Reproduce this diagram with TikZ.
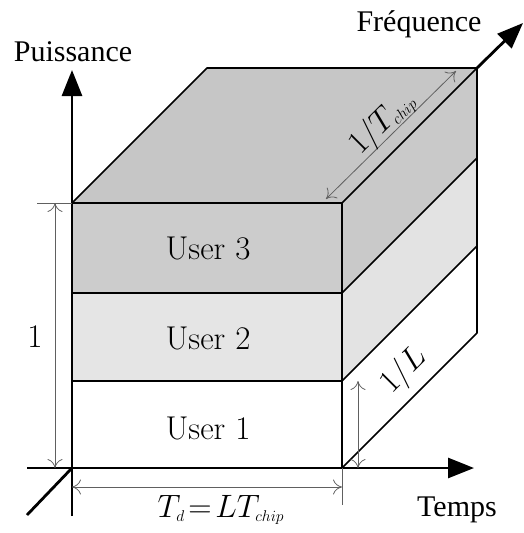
\documentclass[tikz,border=0pt]{standalone}
\usepackage{fontspec}
\newfontfamily\timesf{Liberation Serif}
\usetikzlibrary{arrows.meta}
\newcommand{\mylargemath}[1]{\scalebox{1.3}{$#1$}}
\begin{document}
\begin{tikzpicture}[x=1pt,y=-1pt,
 edge/.style={line width=1.6pt, line join=round},
 axis/.style={line width=2.8pt,-{Triangle[length=26pt,width=20pt]}},
 dimline/.style={gray!75!black, line width=0.8pt},
 dimarrow/.style={dimline,{To[length=9pt,width=15pt]}-{To[length=9pt,width=15pt]}},
 ulabel/.style={font=\fontsize{33}{36}\selectfont},
 mlabel/.style={font=\fontsize{24}{28}\selectfont},
 axlabel/.style={font=\timesf\fontsize{30}{32}\selectfont}]
\useasboundingbox (0,0) rectangle (524,533);
% corners
\coordinate (O) at (72,468);
\coordinate (A) at (342,468);
\coordinate (L1) at (72,381);
\coordinate (R1f) at (342,381);
\coordinate (L2) at (72,293);
\coordinate (R2f) at (342,293);
\coordinate (F) at (72,203);
\coordinate (FR) at (342,203);
\coordinate (BL) at (207,68);
\coordinate (BR) at (477,68);
\coordinate (R2b) at (477,158);
\coordinate (R1b) at (477,246);
\coordinate (RB) at (477,333);
% faces
\fill[gray!45] (F) -- (BL) -- (BR) -- (FR) -- cycle;
\fill[gray!42] (FR) -- (BR) -- (R2b) -- (R2f) -- cycle;
\fill[gray!22] (R2f) -- (R2b) -- (R1b) -- (R1f) -- cycle;
\fill[white] (R1f) -- (R1b) -- (RB) -- (A) -- cycle;
\fill[gray!40] (F) rectangle (R2f);
\fill[gray!20] (L2) rectangle (R1f);
\fill[white] (L1) rectangle (A);
% edges
\draw[edge] (F) -- (BL) -- (BR) -- (RB) -- (A) -- (O) -- (F) -- (FR) -- (A);
\draw[edge] (FR) -- (BR);
\draw[edge] (L2) -- (R2f) -- (R2b);
\draw[edge] (L1) -- (R1f) -- (R1b);
% axes
\coordinate (Vtop) at (72,70);
\coordinate (Vbot) at (72,516);
\coordinate (Hleft) at (27,468);
\coordinate (Hright) at (474,468);
\coordinate (Dlow) at (27,515);
\coordinate (Dtip) at (523,23);
\draw[axis] (Vbot) -- (Vtop);
\draw[axis] (Hleft) -- (Hright);
\draw[line width=2.8pt] (Dlow) -- (O);
\draw[axis] (BR) -- (Dtip);
% dimensions
\coordinate (e1) at (37,203);
\coordinate (d1a) at (55,203);
\coordinate (d1b) at (55,468);
\draw[dimline] (e1) -- (F);
\draw[dimarrow] (d1a) -- (d1b);
\coordinate (e2) at (342,505);
\draw[dimline] (A) -- (e2);
\coordinate (d2a) at (72,487);
\coordinate (d2b) at (342,487);
\draw[dimarrow] (d2a) -- (d2b);
\coordinate (d3a) at (358,381);
\coordinate (d3b) at (358,468);
\draw[dimarrow] (d3a) -- (d3b);
\coordinate (d4a) at (326,199);
\coordinate (d4b) at (456,71);
\draw[dimarrow] (d4a) -- (d4b);
% labels
\node[ulabel] (u3) at (208,248) {User 3};
\node[ulabel] (u2) at (208,338) {User 2};
\node[ulabel] (u1) at (208,428) {User 1};
\node[ulabel] (one) at (35,337) {1};
\node[mlabel] (td) at (221,510) {\mylargemath{T_{\scriptscriptstyle d}\!=\!LT_{\scriptscriptstyle chip}}};
\node[mlabel,rotate=45] (il) at (404,371) {\mylargemath{1\big/L}};
\node[mlabel,rotate=45] (it) at (382,123) {\mylargemath{1\big/T_{\scriptscriptstyle chip}}};
\node[axlabel] (pu) at (73,52) {Puissance};
\node[axlabel] (fr) at (419,24) {Fréquence};
\node[axlabel] (te) at (457,510) {Temps};
\end{tikzpicture}
\end{document}
